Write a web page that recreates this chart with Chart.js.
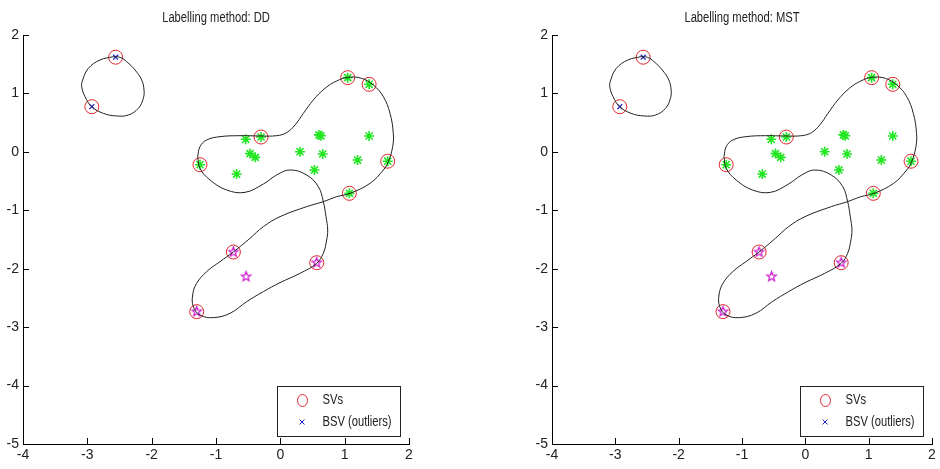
<!DOCTYPE html>
<html lang="en">
<head>
<meta charset="UTF-8">
<title>Labelling method: DD / MST</title>
<script src="https://cdn.jsdelivr.net/npm/chart.js@4"></script>
<style>
  body { margin: 0; background: #fff; }
  .row { display: flex; width: 940px; height: 469px; }
  canvas { display: block; }
</style>
</head>
<body>
<div class="row">
  <canvas id="ddChart" width="470" height="469"></canvas>
  <canvas id="mstChart" width="470" height="469"></canvas>
</div>
<script>
// --- data (same points in both panels) ---
const titles = ["Labelling method: DD", "Labelling method: MST"];
const xTicks = [-4, -3, -2, -1, 0, 1, 2];
const yTicks = [-5, -4, -3, -2, -1, 0, 1, 2];

// green asterisks (cluster 1)
const greenX = [1.047, 1.38, -0.30, -1.249, 1.669, 1.073, -0.538, -0.471, -0.389, -0.68, 0.306, 0.60, 0.63, 0.658, 0.53, 1.20, 1.38];
const greenY = [1.27, 1.156, 0.254, -0.22, -0.16, -0.71, 0.215, -0.03, -0.094, -0.38, 0.003, 0.29, 0.275, -0.037, -0.31, -0.14, 0.271];

// magenta pentagrams (cluster 2)
const magentaX = [-0.73, 0.566, -1.30, -0.533];
const magentaY = [-1.714, -1.897, -2.735, -2.136];

// support vectors (red circles)
const svX = [1.047, 1.38, -0.30, -1.249, 1.669, 1.073, -0.73, 0.566, -1.30, -2.56, -2.93];
const svY = [1.27, 1.156, 0.254, -0.22, -0.16, -0.71, -1.714, -1.897, -2.735, 1.62, 0.773];

// bounded support vectors (blue x)
const bsvX = [-2.56, -2.93];
const bsvY = [1.62, 0.773];

// cluster boundary, small loop
const loopAX = [-2.596, -2.803, -2.984, -3.073, -3.088, -3.036, -2.933, -2.751, -2.544, -2.363, -2.207, -2.130, -2.119, -2.155, -2.259, -2.389, -2.492, -2.596];
const loopAY = [1.629, 1.572, 1.430, 1.230, 1.116, 0.945, 0.774, 0.659, 0.614, 0.631, 0.745, 0.916, 1.059, 1.230, 1.401, 1.544, 1.618, 1.629];

// cluster boundary, large self-crossing loop
const loopBX = [-1.285, -1.249, -1.145, -0.938, -0.627, -0.316, -0.057, 0.098, 0.228, 0.358, 0.513, 0.694, 0.876, 1.057, 1.264, 1.446, 1.601, 1.705, 1.756, 1.746, 1.679, 1.601, 1.394, 1.083, 0.876, 0.668, 0.409, -0.005, -0.264, -0.472, -0.731, -0.938, -1.145, -1.301, -1.363, -1.352, -1.249, -1.041, -0.782, -0.523, -0.264, -0.005, 0.306, 0.565, 0.668, 0.720, 0.736, 0.710, 0.668, 0.591, 0.409, 0.150, -0.057, -0.264, -0.549, -0.834, -1.093, -1.249, -1.285];
const loopBY = [-0.082, 0.089, 0.203, 0.260, 0.277, 0.272, 0.277, 0.329, 0.460, 0.659, 0.888, 1.087, 1.213, 1.276, 1.258, 1.144, 0.945, 0.659, 0.317, 0.089, -0.168, -0.310, -0.539, -0.710, -0.767, -0.852, -0.938, -1.109, -1.280, -1.480, -1.714, -1.879, -2.050, -2.250, -2.450, -2.649, -2.792, -2.837, -2.763, -2.564, -2.392, -2.238, -2.079, -1.908, -1.736, -1.508, -1.337, -1.109, -0.852, -0.596, -0.396, -0.310, -0.396, -0.550, -0.693, -0.653, -0.481, -0.282, -0.082];

const FONT = "'Liberation Sans', Arial, sans-serif";
const pts = (xs, ys) => xs.map((x, i) => ({ x, y: ys[i] }));

function pentagram(color, r) {
  const c = document.createElement('canvas');
  const s = Math.ceil(r * 2 + 3);
  c.width = c.height = s;
  const g = c.getContext('2d');
  g.strokeStyle = color;
  g.lineWidth = 1.2;
  g.beginPath();
  for (let i = 0; i < 10; i++) {
    const rad = i % 2 ? r * 0.42 : r;
    const a = -Math.PI / 2 + i * Math.PI / 5;
    const px = s / 2 + rad * Math.cos(a), py = s / 2 + rad * Math.sin(a);
    if (i) g.lineTo(px, py); else g.moveTo(px, py);
  }
  g.closePath();
  g.stroke();
  return c;
}

// condensed text, like the narrow Helvetica of the original figure
function narrowText(ctx, str, x, y, align) {
  const k = 0.8;
  const w = ctx.measureText(str).width * k;
  const x0 = align === 'center' ? x - w / 2 : x;
  ctx.save();
  ctx.textAlign = 'left';
  ctx.translate(x0, y);
  ctx.scale(k, 1);
  ctx.fillText(str, 0, 0);
  ctx.restore();
}

// MATLAB style: ticks point into the axes
const inwardTicks = {
  id: 'inwardTicks',
  afterDraw(chart) {
    const ctx = chart.ctx, xs = chart.scales.x, ys = chart.scales.y;
    ctx.save();
    ctx.strokeStyle = '#000';
    ctx.lineWidth = 1;
    ctx.beginPath();
    xs.ticks.forEach(t => {
      const px = Math.round(xs.getPixelForValue(t.value)) + 0.5;
      ctx.moveTo(px, ys.bottom); ctx.lineTo(px, ys.bottom - 6);
    });
    ys.ticks.forEach(t => {
      const py = Math.round(ys.getPixelForValue(t.value)) + 0.5;
      ctx.moveTo(xs.left, py); ctx.lineTo(xs.left + 6, py);
    });
    ctx.stroke();
    ctx.restore();
  }
};

// title above plot + legend box in lower right corner
const titleAndLegend = {
  id: 'titleAndLegend',
  afterDraw(chart) {
    const ctx = chart.ctx, a = chart.chartArea;
    ctx.save();
    ctx.fillStyle = '#222';
    ctx.font = '14px ' + FONT;
    ctx.textBaseline = 'middle';
    narrowText(ctx, chart.options.plugins.titleAndLegend.text, (a.left + a.right) / 2, 18, 'center');

    const w = 123, h = 50;
    const bx = Math.round(a.right - 9 - w) + 0.5, by = Math.round(a.bottom - 8 - h) + 0.5;
    ctx.fillStyle = '#fff';
    ctx.fillRect(bx, by, w, h);
    ctx.strokeStyle = '#222';
    ctx.lineWidth = 1;
    ctx.strokeRect(bx, by, w, h);

    const sv = chart.data.datasets[4], bsv = chart.data.datasets[5];
    // SVs marker
    ctx.strokeStyle = sv.borderColor;
    ctx.beginPath();
    ctx.ellipse(bx + 25, by + 14, 5, 6, 0, 0, Math.PI * 2);
    ctx.stroke();
    // BSV marker
    ctx.strokeStyle = bsv.borderColor;
    ctx.beginPath();
    ctx.moveTo(bx + 22, by + 33); ctx.lineTo(bx + 27, by + 38);
    ctx.moveTo(bx + 27, by + 33); ctx.lineTo(bx + 22, by + 38);
    ctx.stroke();

    ctx.fillStyle = '#222';
    ctx.font = '14px ' + FONT;
    narrowText(ctx, sv.label, bx + 45, by + 14, 'left');
    narrowText(ctx, bsv.label, bx + 45, by + 36, 'left');
    ctx.restore();
  }
};

function makeChart(id, title, padLeft, padRight) {
  const star = pentagram('#cc10cc', 5);
  new Chart(document.getElementById(id), {
    type: 'scatter',
    data: {
      datasets: [
        { label: 'boundary 1', data: pts(loopAX, loopAY), showLine: true, borderColor: '#222', borderWidth: 1,
          pointRadius: 0, tension: 0.4, order: 0 },
        { label: 'boundary 2', data: pts(loopBX, loopBY), showLine: true, borderColor: '#222', borderWidth: 1,
          pointRadius: 0, tension: 0.4, order: 0 },
        { label: 'cluster 1', data: pts(greenX, greenY), pointStyle: 'star', pointRadius: 5,
          borderColor: '#22e622', borderWidth: 1.6, order: 3 },
        { label: 'cluster 2', data: pts(magentaX, magentaY), pointStyle: star, pointRadius: 5, order: 3 },
        { label: 'SVs', data: pts(svX, svY), pointStyle: 'circle', pointRadius: 7,
          borderColor: '#e0262e', backgroundColor: 'rgba(0,0,0,0)', borderWidth: 1, order: 2 },
        { label: 'BSV (outliers)', data: pts(bsvX, bsvY), pointStyle: 'crossRot', pointRadius: 3.5,
          borderColor: '#2020c8', borderWidth: 1.2, order: 1 }
      ]
    },
    options: {
      responsive: false,
      animation: false,
      events: [],
      layout: { padding: { left: padLeft, right: padRight, top: 35, bottom: 0 } },
      plugins: {
        legend: { display: false },
        tooltip: { enabled: false },
        titleAndLegend: { text: title }
      },
      scales: {
        x: {
          type: 'linear', min: -4, max: 2,
          afterBuildTicks: s => { s.ticks = xTicks.map(v => ({ value: v })); },
          afterFit: s => { s.height = 25; },
          grid: { display: false, drawTicks: false },
          border: { display: true, color: '#000', width: 1 },
          ticks: { padding: 3, color: '#222', font: { family: FONT, size: 14 } }
        },
        y: {
          type: 'linear', min: -5, max: 2,
          afterBuildTicks: s => { s.ticks = yTicks.map(v => ({ value: v })); },
          afterFit: s => { s.width = 23; },
          grid: { display: false, drawTicks: false },
          border: { display: true, color: '#000', width: 1 },
          ticks: { padding: 4, color: '#222', font: { family: FONT, size: 14 } }
        }
      }
    },
    plugins: [inwardTicks, titleAndLegend]
  });
}

makeChart('ddChart', titles[0], 0, 61);
makeChart('mstChart', titles[1], 59, 2);
</script>
</body>
</html>
